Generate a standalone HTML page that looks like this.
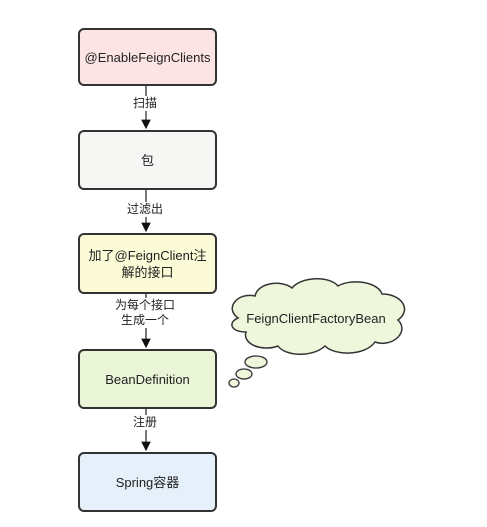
<!DOCTYPE html>
<html><head><meta charset="utf-8"><style>
body{margin:0;background:#fff;width:487px;height:527px;position:relative;overflow:hidden;font-family:"Liberation Sans","Noto Sans CJK SC",sans-serif;}
.b{position:absolute;left:78px;width:135px;border:2px solid #333;border-radius:6px;display:flex;align-items:center;justify-content:center;text-align:center;font-size:13px;color:#222;line-height:17px;}
.l{position:absolute;font-size:12px;color:#222;background:#fff;text-align:center;line-height:15px;}
</style></head><body>
<svg width="487" height="527" style="position:absolute;left:0;top:0">
<defs>
<pattern id="h" width="6" height="6" patternUnits="userSpaceOnUse" patternTransform="rotate(45)"><line x1="0" y1="0" x2="0" y2="6" stroke="#000" stroke-opacity="0.08" stroke-width="2"/></pattern>
<marker id="a" markerWidth="8" markerHeight="8" refX="7" refY="4" orient="auto"><path d="M0,0 L8,4 L0,8 z" fill="#111"/></marker>
</defs>
<g stroke="#222" stroke-width="1.2">
<line x1="146" y1="85" x2="146" y2="128" marker-end="url(#a)"/>
<line x1="146" y1="190" x2="146" y2="231" marker-end="url(#a)"/>
<line x1="146" y1="293" x2="146" y2="347" marker-end="url(#a)"/>
<line x1="146" y1="409" x2="146" y2="450" marker-end="url(#a)"/>
</g>
<path d="M238,318 C224,308 238,292 255,296 C258,282 282,280 292,288 C302,276 330,276 338,286 C352,278 378,282 382,294 C402,294 412,310 398,320 C410,332 392,348 375,342 C365,356 335,356 325,346 C312,358 285,356 278,346 C262,352 242,344 246,332 C230,332 228,322 238,318 z" fill="#eef7dc" stroke="#333" stroke-width="1.5"/>
<ellipse cx="256" cy="362" rx="11" ry="6" fill="#eef7dc" stroke="#333" stroke-width="1.3"/>
<ellipse cx="244" cy="374" rx="8" ry="5" fill="#eef7dc" stroke="#333" stroke-width="1.3"/>
<ellipse cx="234" cy="383" rx="5" ry="4" fill="#eef7dc" stroke="#333" stroke-width="1.3"/>
<text x="316" y="323" font-size="13" text-anchor="middle" font-family="Liberation Sans,sans-serif" fill="#222">FeignClientFactoryBean</text>
</svg>
<div class="b" style="top:28px;height:54px;background:#fde4e4">@EnableFeignClients</div>
<div class="b" style="top:130px;height:56px;background:#f6f6f4">包</div>
<div class="b" style="top:233px;height:57px;background:#fbfbd8">加了@FeignClient注<br>解的接口</div>
<div class="b" style="top:349px;height:56px;background:#e9f5d6">BeanDefinition</div>
<div class="b" style="top:452px;height:56px;background:#e6f0fb">Spring容器</div>
<div class="l" style="left:133px;top:96px">扫描</div>
<div class="l" style="left:127px;top:202px">过滤出</div>
<div class="l" style="left:115px;top:298px">为每个接口<br>生成一个</div>
<div class="l" style="left:133px;top:415px">注册</div>
</body></html>
